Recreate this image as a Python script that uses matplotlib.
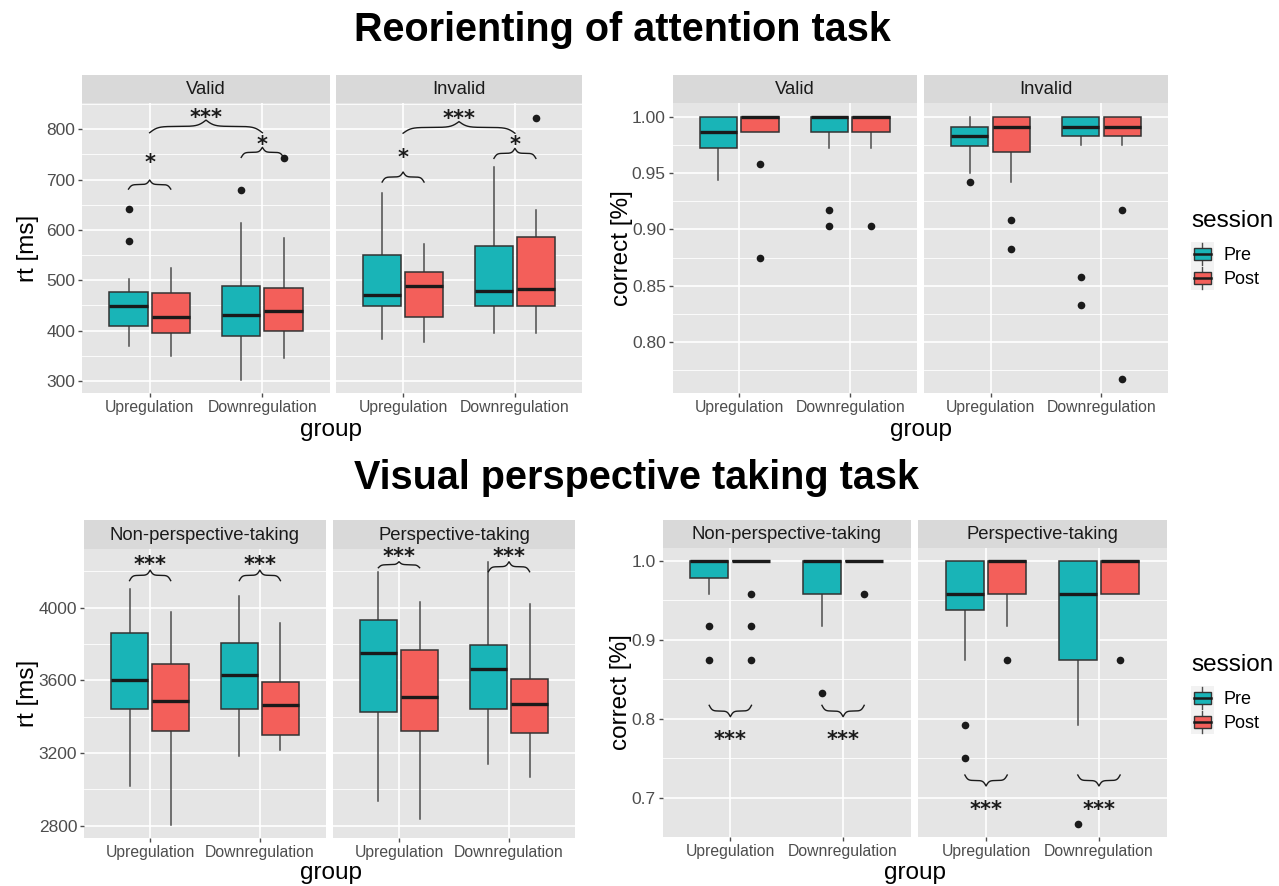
import numpy as np
import matplotlib.pyplot as plt
from matplotlib.legend_handler import HandlerBase
from matplotlib.patches import Rectangle, Patch
from matplotlib.lines import Line2D
from matplotlib.transforms import offset_copy

plt.rcParams['font.family'] = ['Liberation Sans', 'DejaVu Sans']

W, H = 1279, 886

groups = ["Upregulation", "Downregulation"]
sessions = ["Pre", "Post"]
colors = ["#19B4B7", "#F35F5A"]

# every array below is ordered facet -> group -> session
# (Up Pre, Up Post, Down Pre, Down Post) for facet 1, then facet 2

# reorienting of attention, reaction time
att_facets = ["Valid", "Invalid"]
att_rt_lo = [369, 350, 302, 345, 383, 377, 395, 396]
att_rt_q1 = [410, 395, 390, 400, 448, 427, 448, 448]
att_rt_med = [449, 426, 431, 439, 470, 489, 479, 482]
att_rt_q3 = [477, 474, 488, 484, 550, 516, 568, 585]
att_rt_hi = [502, 524, 613, 583, 674, 571, 725, 640]
att_rt_out = [[642, 578], [], [680], [743], [], [], [], [823]]

# reorienting of attention, accuracy
att_acc_lo = [0.944, 0.986, 0.972, 0.972, 0.950, 0.942, 0.975, 0.975]
att_acc_q1 = [0.972, 0.986, 0.986, 0.986, 0.974, 0.969, 0.983, 0.983]
att_acc_med = [0.986, 1.0, 1.0, 1.0, 0.983, 0.991, 0.991, 0.991]
att_acc_q3 = [1.0, 1.0, 1.0, 1.0, 0.991, 1.0, 1.0, 1.0]
att_acc_hi = [1.0, 1.0, 1.0, 1.0, 1.0, 1.0, 1.0, 1.0]
att_acc_out = [[], [0.958, 0.875], [0.917, 0.903], [0.903],
               [0.942], [0.908, 0.883], [0.858, 0.833], [0.917, 0.767]]

# visual perspective taking, reaction time
vpt_facets = ["Non-perspective-taking", "Perspective-taking"]
vpt_rt_lo = [3018, 2802, 3181, 3214, 2934, 2837, 3141, 3065]
vpt_rt_q1 = [3441, 3320, 3443, 3298, 3424, 3318, 3443, 3309]
vpt_rt_med = [3604, 3487, 3631, 3461, 3749, 3510, 3663, 3470]
vpt_rt_q3 = [3860, 3688, 3807, 3593, 3932, 3765, 3792, 3608]
vpt_rt_hi = [4102, 3978, 4064, 3917, 4194, 4029, 4249, 4020]
vpt_rt_out = [[], [], [], [], [], [], [], []]

# visual perspective taking, accuracy
vpt_acc_lo = [0.958, 1.0, 0.917, 1.0, 0.875, 0.917, 0.792, 0.958]
vpt_acc_q1 = [0.979, 1.0, 0.958, 1.0, 0.938, 0.958, 0.875, 0.958]
vpt_acc_med = [1.0, 1.0, 1.0, 1.0, 0.958, 1.0, 0.958, 1.0]
vpt_acc_q3 = [1.0, 1.0, 1.0, 1.0, 1.0, 1.0, 1.0, 1.0]
vpt_acc_hi = [1.0, 1.0, 1.0, 1.0, 1.0, 1.0, 1.0, 1.0]
vpt_acc_out = [[0.917, 0.875], [0.958, 0.917, 0.875], [0.833], [0.958],
               [0.792, 0.750], [0.875], [0.667], [0.875]]

# significance braces: (facet, x from, x to, y ends, y tip, label, label y)
att_rt_sig = [(0, 0.8125, 1.1875, 681, 699, "*", 743),
              (0, 1.8125, 2.1875, 744, 764, "*", 778),
              (0, 1.0, 2.0, 793, 818, "***", 832),
              (1, 0.8125, 1.1875, 695, 715, "*", 752),
              (1, 1.8125, 2.1875, 742, 762, "*", 778),
              (1, 1.0, 2.0, 792, 815, "***", 830)]
vpt_rt_sig = [(0, 0.8125, 1.1875, 4148, 4206, "***", 4262),
              (0, 1.8125, 2.1875, 4148, 4206, "***", 4262),
              (1, 0.8125, 1.1875, 4219, 4252, "***", 4307),
              (1, 1.8125, 2.1875, 4197, 4252, "***", 4307)]
vpt_acc_sig = [(0, 0.8125, 1.1875, 0.817, 0.8025, "***", 0.779),
               (0, 1.8125, 2.1875, 0.817, 0.8025, "***", 0.779),
               (1, 0.8125, 1.1875, 0.7286, 0.7147, "***", 0.6907),
               (1, 1.8125, 2.1875, 0.7286, 0.7147, "***", 0.6907)]


def fig_rect(x0, y0, x1, y1):
    return [x0 / W, 1 - y1 / H, (x1 - x0) / W, (y1 - y0) / H]


def brace(ax, x0, x1, yb, yt):
    t = np.linspace(0, 1, 120)
    k = 14
    s = lambda u: 1 / (1 + np.exp(-u))
    g = 0.5 * (2 * s(k * t) - 1) + 0.5 * (2 * s(k * (t - 1)) - 1) + 0.5
    xm = (x0 + x1) / 2
    xl = x0 + t * (xm - x0)
    xr = x1 - t * (x1 - xm)
    y = yb + (yt - yb) * g
    ax.plot(np.r_[xl, xr[::-1]], np.r_[y, y[::-1]], color="#1a1a1a", lw=1.0,
            zorder=5, clip_on=False)


def draw_facet(ax, k, lo, q1, med, q3, hi, out):
    stats, pos, cols = [], [], []
    for g in range(2):
        for s in range(2):
            i = k * 4 + g * 2 + s
            stats.append(dict(whislo=lo[i], q1=q1[i], med=med[i], q3=q3[i],
                              whishi=hi[i], fliers=out[i]))
            pos.append(g + 1 + (s - 0.5) * 0.375)
            cols.append(colors[s])
    bp = ax.bxp(stats, positions=pos, widths=0.3375, patch_artist=True,
                showcaps=False, manage_ticks=False,
                boxprops=dict(edgecolor="#333333", linewidth=1.1),
                medianprops=dict(color="#1a1a1a", linewidth=2.4),
                whiskerprops=dict(color="#4d4d4d", linewidth=1.1),
                flierprops=dict(marker="o", markerfacecolor="#1a1a1a",
                                markeredgecolor="none", markersize=5.5))
    for patch, c in zip(bp["boxes"], cols):
        patch.set_facecolor(c)
        patch.set_zorder(3)
    for m in bp["medians"]:
        m.set_zorder(4)


def panel(rects, strip_top, facets, stats, ylim, yticks, ylabels, yminor, sig):
    axes = []
    for k, (x0, y0, x1, y1) in enumerate(rects):
        ax = fig.add_axes(fig_rect(x0, y0, x1, y1))
        ax.set_zorder(2)
        ax.set_facecolor("#E5E5E5")
        for sp in ax.spines.values():
            sp.set_visible(False)
        draw_facet(ax, k, *stats)
        ax.set_xlim(0.4, 2.6)
        ax.set_ylim(*ylim)
        ax.set_xticks([1, 2])
        ax.set_xticklabels(groups, fontsize=11.3, color="#4d4d4d")
        ax.set_yticks(yticks)
        ax.set_yticks(yminor, minor=True)
        if k == 0:
            ax.set_yticklabels(ylabels, fontsize=12.5, color="#4d4d4d")
        else:
            ax.set_yticklabels([])
        ax.tick_params(axis="both", which="major", length=3, width=1,
                       color="#4d4d4d", pad=2)
        ax.tick_params(axis="y", which="minor", length=0)
        if k > 0:
            ax.tick_params(axis="y", which="major", length=0)
        ax.grid(True, which="major", color="white", lw=1.2)
        ax.grid(True, which="minor", axis="y", color="white", lw=0.6)
        ax.set_axisbelow(True)

        sax = fig.add_axes(fig_rect(x0, strip_top, x1, y0))
        sax.set_zorder(1)
        sax.set_facecolor("#D9D9D9")
        sax.set_xticks([])
        sax.set_yticks([])
        for sp in sax.spines.values():
            sp.set_visible(False)
        sax.text(0.5, 0.47, facets[k], ha="center", va="center",
                 fontsize=13.3, color="#1a1a1a", transform=sax.transAxes)
        axes.append(ax)

    for (k, xa, xb, yb, yt, lab, ly) in sig:
        brace(axes[k], xa, xb, yb, yt)
        tr = offset_copy(axes[k].transData, fig=fig, y=-3.5, units="points")
        axes[k].text((xa + xb) / 2, ly, lab, ha="center", va="center",
                     fontsize=15, family="DejaVu Sans", fontweight="bold",
                     color="#1a1a1a", zorder=6, transform=tr)
    return axes


class BoxHandler(HandlerBase):
    def create_artists(self, legend, orig_handle, xdescent, ydescent,
                       width, height, fontsize, trans):
        x0, y0 = -xdescent, -ydescent
        bg = Rectangle((x0, y0), width, height, facecolor="#F2F2F2",
                       edgecolor="none", transform=trans)
        wl = Line2D([x0 + width / 2] * 2, [y0 + 0.05 * height, y0 + 0.95 * height],
                    color="#4d4d4d", lw=1.0, transform=trans)
        box = Rectangle((x0 + 0.12 * width, y0 + 0.24 * height),
                        0.76 * width, 0.52 * height,
                        facecolor=orig_handle.get_facecolor(),
                        edgecolor="#333333", lw=1.0, transform=trans)
        md = Line2D([x0 + 0.12 * width, x0 + 0.88 * width],
                    [y0 + height / 2] * 2, color="#1a1a1a", lw=1.8,
                    transform=trans)
        return [bg, wl, box, md]


def legend(title_px):
    fig.text(1191 / W, 1 - title_px / H, "session", ha="left", va="center",
             fontsize=17.5)
    handles = [Patch(facecolor=c) for c in colors]
    fig.legend(handles, sessions, loc="upper left",
               bbox_to_anchor=(1191 / W, 1 - (title_px + 21) / H),
               frameon=False, fontsize=13,
               handler_map={Patch: BoxHandler()},
               handlelength=1.27, handleheight=1.67, handletextpad=0.55,
               labelspacing=0.0, borderpad=0, borderaxespad=0)


fig = plt.figure(figsize=(W / 100, H / 100), dpi=100)

panel([(82, 103, 330, 393), (336, 103, 582, 393)], 75, att_facets,
      (att_rt_lo, att_rt_q1, att_rt_med, att_rt_q3, att_rt_hi, att_rt_out),
      (276, 852), [300, 400, 500, 600, 700, 800],
      ["300", "400", "500", "600", "700", "800"],
      [350, 450, 550, 650, 750, 850], att_rt_sig)

panel([(672.7, 103, 916.7, 393), (924, 103, 1168, 393)], 75, att_facets,
      (att_acc_lo, att_acc_q1, att_acc_med, att_acc_q3, att_acc_hi, att_acc_out),
      (0.755, 1.012), [0.80, 0.85, 0.90, 0.95, 1.00],
      ["0.80", "0.85", "0.90", "0.95", "1.00"],
      [0.775, 0.825, 0.875, 0.925, 0.975], [])

panel([(84.3, 549, 325.7, 838), (333, 549, 575, 838)], 520, vpt_facets,
      (vpt_rt_lo, vpt_rt_q1, vpt_rt_med, vpt_rt_q3, vpt_rt_hi, vpt_rt_out),
      (2732, 4322), [2800, 3200, 3600, 4000],
      ["2800", "3200", "3600", "4000"],
      [3000, 3400, 3800, 4200], vpt_rt_sig)

panel([(662.7, 548, 910.7, 837), (918.3, 548, 1166.7, 837)], 520, vpt_facets,
      (vpt_acc_lo, vpt_acc_q1, vpt_acc_med, vpt_acc_q3, vpt_acc_hi, vpt_acc_out),
      (0.6514, 1.0165), [0.7, 0.8, 0.9, 1.0],
      ["0.7", "0.8", "0.9", "1.0"],
      [0.65, 0.75, 0.85, 0.95], vpt_acc_sig)

# axis titles
for (x, y) in [(331, 430), (921, 430), (331, 873), (915, 873)]:
    fig.text(x / W, 1 - y / H, "group", ha="center", va="center", fontsize=17.5)
fig.text(28 / W, 1 - 248 / H, "rt [ms]", rotation=90, ha="center",
         va="center", fontsize=17.5)
fig.text(622 / W, 1 - 248 / H, "correct [%]", rotation=90, ha="center",
         va="center", fontsize=17.5)
fig.text(28 / W, 1 - 693 / H, "rt [ms]", rotation=90, ha="center",
         va="center", fontsize=17.5)
fig.text(621 / W, 1 - 692 / H, "correct [%]", rotation=90, ha="center",
         va="center", fontsize=17.5)

# titles
fig.text(622 / W, 1 - 30 / H, "Reorienting of attention task", ha="center",
         va="center", fontsize=28.5, fontweight="bold")
fig.text(636 / W, 1 - 478 / H, "Visual perspective taking task", ha="center",
         va="center", fontsize=28.5, fontweight="bold")

legend(221)
legend(665)

fig.savefig("out.png", dpi=100, facecolor="white")
